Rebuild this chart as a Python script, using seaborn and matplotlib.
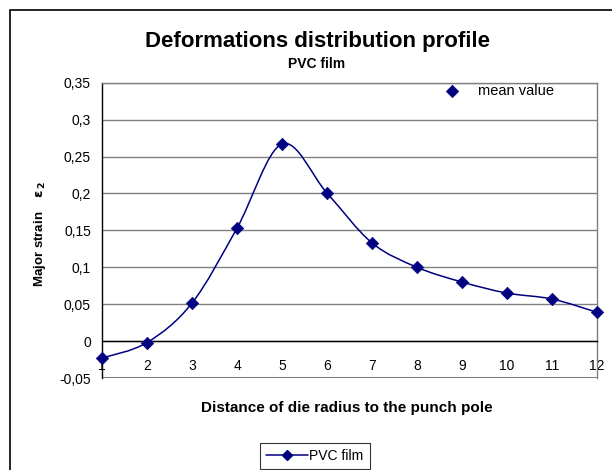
import numpy as np
import pandas as pd
import matplotlib
matplotlib.use("Agg")
import matplotlib.pyplot as plt
from matplotlib.path import Path
from matplotlib.patches import PathPatch, Rectangle
from matplotlib.lines import Line2D
from matplotlib.ticker import FuncFormatter
import seaborn as sns

# Data
distance = [1, 2, 3, 4, 5, 6, 7, 8, 9, 10, 11, 12]
strain = [-0.023, -0.002, 0.0515, 0.153, 0.267, 0.2005, 0.133, 0.100, 0.080, 0.065, 0.057, 0.039]
y_ticks = [-0.05, 0, 0.05, 0.1, 0.15, 0.2, 0.25, 0.3, 0.35]

NAVY = "#000080"

sns.set_theme(style="white")
plt.rcParams["font.family"] = ["Liberation Sans", "DejaVu Sans"]
plt.rcParams["text.color"] = "black"

df = pd.DataFrame({"distance": distance, "strain": strain})

fig = plt.figure(figsize=(6.12, 4.70), dpi=100)
ax = fig.add_axes([102 / 612, 1 - 378 / 470, (597 - 102) / 612, (378 - 82.7) / 470])

# Smoothed line (Excel style bezier through the points)
xs = np.array(distance, dtype=float)
ys = np.array(strain, dtype=float)
verts = [(xs[0], ys[0])]
codes = [Path.MOVETO]
n = len(xs)
for i in range(n - 1):
    p0 = np.array([xs[max(i - 1, 0)], ys[max(i - 1, 0)]])
    p1 = np.array([xs[i], ys[i]])
    p2 = np.array([xs[i + 1], ys[i + 1]])
    p3 = np.array([xs[min(i + 2, n - 1)], ys[min(i + 2, n - 1)]])
    c1 = p1 + (p2 - p0) / 6.0
    c2 = p2 - (p3 - p1) / 6.0
    verts += [tuple(c1), tuple(c2), tuple(p2)]
    codes += [Path.CURVE4] * 3
ax.add_patch(PathPatch(Path(verts, codes), facecolor="none", edgecolor=NAVY, lw=1.1, zorder=3))

sns.scatterplot(data=df, x="distance", y="strain", marker="D", color=NAVY, s=40,
                edgecolor=NAVY, linewidth=0.5, ax=ax, zorder=4, label="mean value", clip_on=False)

ax.set_xlim(1, 12)
ax.set_ylim(-0.05, 0.35)
ax.set_yticks(y_ticks)
ax.yaxis.set_major_formatter(FuncFormatter(lambda v, p: ("%g" % round(v, 2)).replace(".", ",")))
ax.set_xticks(distance)
ax.set_xticklabels([str(d) for d in distance])

for v in y_ticks[1:]:
    ax.axhline(v, color="#808080", lw=1, zorder=1)

for s in ["top", "right"]:
    ax.spines[s].set_color("#808080")
    ax.spines[s].set_linewidth(1)
ax.spines["left"].set_color("black")
ax.spines["left"].set_linewidth(1)
ax.spines["bottom"].set_position(("data", 0))
ax.spines["bottom"].set_color("black")
ax.spines["bottom"].set_linewidth(1)
ax.axhline(-0.05, color="#808080", lw=1.5, zorder=1)

ax.tick_params(axis="y", direction="out", length=5, width=1, color="black", labelsize=10, pad=3,
               labelcolor="black")
ax.tick_params(axis="x", direction="out", length=5, width=1, color="black", labelsize=10, pad=8,
               labelcolor="black")

ax.set_xlabel("")
ax.set_ylabel("")

fig.text(40 / 612, 1 - 234 / 470, r"Major strain    $\mathbf{\varepsilon}_{\,\mathbf{2}}$", rotation=90,
         ha="center", va="center", fontsize=9.5, fontweight="bold")
fig.text(347 / 612, 1 - 408 / 470, "Distance of die radius to the punch pole",
         ha="center", va="center", fontsize=11, fontweight="bold")
fig.text(317 / 612, 1 - 42 / 470, "Deformations distribution profile",
         ha="center", va="center", fontsize=16, fontweight="bold")
fig.text(317 / 612, 1 - 64 / 470, "PVC film",
         ha="center", va="center", fontsize=10, fontweight="bold")

leg = ax.legend(loc="upper left", bbox_to_anchor=((427 - 102) / 495, 1.03), frameon=False,
                fontsize=10.5, handletextpad=0.8, borderaxespad=0.3)

handle = Line2D([], [], color=NAVY, marker="D", markersize=5, lw=1.1)
fleg = fig.legend([handle], ["PVC film"], loc="center", bbox_to_anchor=(315 / 612, 1 - 456 / 470),
                  frameon=True, fancybox=False, fontsize=10, handlelength=3.0, borderpad=0.45,
                  handletextpad=0.1)
fleg.get_frame().set_edgecolor("black")
fleg.get_frame().set_linewidth(0.8)

fig.patches.append(Rectangle((10 / 612, -0.05), 1.0, 1 - 10 / 470 + 0.05, transform=fig.transFigure,
                             fill=False, edgecolor="black", lw=1.2))

fig.savefig("out.png", dpi=100)
